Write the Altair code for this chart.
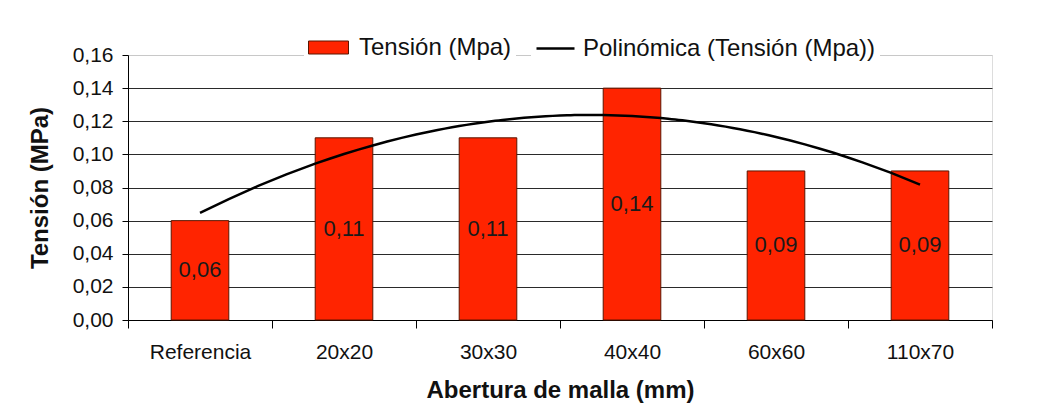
import altair as alt
import pandas as pd

categories = ["Referencia", "20x20", "30x30", "40x40", "60x60", "110x70"]
tension = [0.06, 0.11, 0.11, 0.14, 0.09, 0.09]
bar_series = "Tensión (Mpa)"
trend_series = "Polinómica (Tensión (Mpa))"

df = pd.DataFrame({
    "cat": categories,
    "idx": list(range(1, len(categories) + 1)),
    "val": tension,
    "serie": [bar_series] * len(categories),
    "trend": [trend_series] * len(categories),
})

FONT = "Liberation Sans"
RED = "#ff2400"
TXT = "#111"
HALF_BAR = 0.2  # half of the bar width, as a fraction of a category slot

n = len(categories)
cat_array = "[" + ",".join("'" + c + "'" for c in categories) + ",'']"

x_scale = alt.Scale(domain=[0.5, n + 0.5], nice=False, zero=False)
y_scale = alt.Scale(domain=[0, 0.16], nice=False)

x_axis = alt.Axis(
    title="Abertura de malla (mm)",
    values=[i + 0.5 for i in range(n + 1)],
    labelExpr=cat_array + "[floor(datum.value)]",
    labelOffset=72,
    labelFlush=False,
    labelOverlap=False,
    labelAngle=0,
    labelAlign="center",
    tickSize=8,
    tickColor="#000",
    domainColor="#000",
    labelPadding=13,
    labelFontSize=21,
    labelFont=FONT,
    labelColor=TXT,
    titleFont=FONT,
    titleFontSize=24,
    titleFontWeight="bold",
    titleColor=TXT,
    titlePadding=16,
    grid=False,
)

y_axis = alt.Axis(
    title="Tensión (MPa)",
    values=[0, 0.02, 0.04, 0.06, 0.08, 0.10, 0.12, 0.14, 0.16],
    labelExpr="replace(format(datum.value, '.2f'), '.', ',')",
    labelOverlap=False,
    tickSize=6,
    tickColor="#000",
    domainColor="#000",
    gridColor={"condition": {"test": "datum.value >= 0.159", "value": "#c8c8c8"}, "value": "#2a2a2a"},
    gridWidth=1.2,
    labelPadding=9,
    labelFontSize=21,
    labelFont=FONT,
    labelColor=TXT,
    titleFont=FONT,
    titleFontSize=24,
    titleFontWeight="bold",
    titleColor=TXT,
    titlePadding=20,
)

base = alt.Chart(df)

bars = base.transform_calculate(
    lo=f"datum.idx - {HALF_BAR}",
    hi=f"datum.idx + {HALF_BAR}",
).mark_bar(stroke="#5a1500", strokeWidth=1).encode(
    x=alt.X("lo:Q", scale=x_scale, axis=x_axis),
    x2="hi:Q",
    y=alt.Y("val:Q", scale=y_scale, axis=y_axis),
    y2=alt.datum(0),
    fill=alt.Fill(
        "serie:N",
        scale=alt.Scale(range=[RED]),
        legend=alt.Legend(
            title=None,
            orient="none",
            legendX=176,
            legendY=-32,
            symbolType="M-1,-0.325H1V0.325H-1Z",
            symbolSize=1600,
            symbolStrokeColor="#5a1500",
            symbolStrokeWidth=1,
            symbolOpacity=1,
            labelFontSize=24,
            labelFont=FONT,
            labelColor=TXT,
            labelOffset=10,
            labelLimit=500,
            fillColor="white",
            padding=4,
        ),
    ),
)

labels = base.transform_calculate(
    mid="datum.val / 2",
    txt="replace(format(datum.val, '.2f'), '.', ',')",
).mark_text(fontSize=22, font=FONT, color="#1a1a1a", baseline="middle").encode(
    x=alt.X("idx:Q", scale=x_scale, axis=x_axis),
    y=alt.Y("mid:Q", scale=y_scale, axis=y_axis),
    text="txt:N",
)

trend = base.transform_regression(
    "idx", "val", method="poly", order=2, groupby=["trend"]
).mark_line(strokeWidth=2.5).encode(
    x=alt.X("idx:Q", scale=x_scale, axis=x_axis),
    y=alt.Y("val:Q", scale=y_scale, axis=y_axis),
    stroke=alt.Stroke(
        "trend:N",
        scale=alt.Scale(range=["#000"]),
        legend=alt.Legend(
            title=None,
            orient="none",
            legendX=403,
            legendY=-31,
            symbolType="stroke",
            symbolSize=1444,
            symbolStrokeWidth=2.5,
            labelFontSize=24,
            labelFont=FONT,
            labelColor=TXT,
            labelOffset=7,
            labelLimit=500,
            fillColor="white",
            padding=4,
        ),
    ),
)

chart = alt.layer(bars, labels, trend).properties(
    width=864,
    height=265,
    autosize=alt.AutoSizeParams(type="none"),
    padding={"left": 120, "top": 47, "right": 54, "bottom": 84},
).configure_view(strokeWidth=0).configure(background="white")

chart.save("out.html", embed_options={"renderer": "svg", "actions": False})
